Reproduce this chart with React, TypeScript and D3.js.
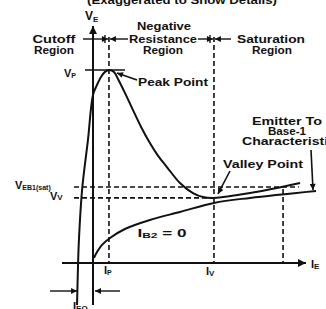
import React from "react";
import * as d3 from "d3";

// emitter characteristic (I_E, V_E), arbitrary units
const emitterIE = [-7.6, -7.1, -6.7, -5.2, -2.4, 0, 1.9, 3.8, 5.7, 7.6, 10, 11.9, 15.2, 19, 22.9, 27.1, 31, 35.2, 41.4, 47.6, 52.4, 57.6, 74.8, 98.6];
const emitterVE = [-20, 0, 11, 34.8, 58.6, 80, 84.8, 88.6, 91, 91.9, 91, 87.6, 81, 72.9, 64.8, 57.1, 51, 45.7, 38.1, 33.3, 31.4, 31, 33.3, 38.1];

// emitter to base-1 characteristic, I_B2 = 0
const baseIE = [0.5, 1.9, 4.3, 8.1, 15.2, 27.1, 41.4, 57.6, 74.8, 106.2];
const baseVE = [2.4, 5.2, 8.6, 11.9, 16.2, 20.5, 24.3, 28.6, 31, 34.3];

// marked levels
const IP = 7.6;
const IV = 57.6;
const ISAT = 90.5;
const IEO = -7.1;
const VP = 91.9;
const VEB1 = 36.2;
const VV = 31;

const regionLabels = [["Cutoff", "Region"], ["Negative", "Resistance", "Region"], ["Saturation", "Region"]];

const font = "'Liberation Sans', Arial, sans-serif";

const T = ({ x, y, w, size = 10, anchor = "middle", children }: any) => (
  <text x={x} y={y} fontSize={size} fontWeight="bold" textAnchor={anchor}
    textLength={w} lengthAdjust="spacingAndGlyphs" fill="#111">{children}</text>
);

export default function App() {
  const w = 326;
  const h = 309;
  const x = d3.scaleLinear().domain([0, 100]).range([93, 303]);
  const y = d3.scaleLinear().domain([0, 100]).range([263, 53]);

  const emitterPts: [number, number][] = emitterIE.map((v, i) => [x(v), y(emitterVE[i])]);
  const basePts: [number, number][] = baseIE.map((v, i) => [x(v), y(baseVE[i])]);
  const path = d3.line().curve(d3.curveCatmullRom.alpha(0.5));

  const dash = "5,3";
  const ink = "#111";
  const topY = 39;

  return (
    <svg width={w} height={h} style={{ position: "absolute", left: 0, top: 0, background: "#fff" }} fontFamily={font}>
      <defs>
        <marker id="ah" viewBox="0 0 10 10" refX="10" refY="5" markerWidth="7" markerHeight="6" orient="auto" markerUnits="userSpaceOnUse">
          <path d="M0,0 L10,5 L0,10 z" fill={ink} />
        </marker>
        <marker id="big" viewBox="0 0 10 10" refX="10" refY="5" markerWidth="10" markerHeight="8" orient="auto" markerUnits="userSpaceOnUse">
          <path d="M0,0 L10,5 L0,10 z" fill={ink} />
        </marker>
      </defs>

      {/* title, mostly cut off */}
      <T x={182} y={4} w={190}>(Exaggerated to Show Details)</T>

      {/* axes */}
      <line x1={x(0)} y1={305} x2={x(0)} y2={26} stroke={ink} strokeWidth={2} markerEnd="url(#big)" />
      <line x1={62} y1={y(0)} x2={306} y2={y(0)} stroke={ink} strokeWidth={2} markerEnd="url(#big)" />

      {/* dashed guides */}
      <g stroke={ink} strokeWidth={1.6} strokeDasharray={dash} fill="none">
        <line x1={x(IP)} y1={37} x2={x(IP)} y2={y(0)} />
        <line x1={x(IV)} y1={37} x2={x(IV)} y2={y(0)} />
        <line x1={x(ISAT)} y1={y(VEB1) + 2} x2={x(ISAT)} y2={y(0)} />
        <line x1={74} y1={y(VEB1)} x2={x(98)} y2={y(VEB1)} />
        <line x1={74} y1={y(VV)} x2={x(IV)} y2={y(VV)} />
      </g>

      {/* peak tick line */}
      <line x1={85} y1={y(VP)} x2={125} y2={y(VP)} stroke={ink} strokeWidth={1.4} />

      {/* region separators */}
      <g stroke={ink} strokeWidth={1.4}>
        <line x1={83} y1={topY} x2={x(IP) - 1} y2={topY} markerEnd="url(#ah)" />
        <line x1={128} y1={topY} x2={x(IP) + 1} y2={topY} markerEnd="url(#ah)" />
        <line x1={198} y1={topY} x2={x(IV) - 1} y2={topY} markerEnd="url(#ah)" />
        <line x1={231} y1={topY} x2={x(IV) + 1} y2={topY} markerEnd="url(#ah)" />
        <line x1={x(IP) - 4} y1={topY - 4} x2={x(IP) - 4} y2={topY + 4} />
        <line x1={x(IV) - 4} y1={topY - 4} x2={x(IV) - 4} y2={topY + 4} />
      </g>

      {/* curves */}
      <path d={path(emitterPts) || ""} fill="none" stroke={ink} strokeWidth={2} />
      <path d={path(basePts) || ""} fill="none" stroke={ink} strokeWidth={2} />

      {/* I_EO arrows */}
      <g stroke={ink} strokeWidth={1.4}>
        <line x1={50} y1={291} x2={x(IEO) - 1} y2={291} markerEnd="url(#ah)" />
        <line x1={120} y1={291} x2={x(0) + 2} y2={291} markerEnd="url(#ah)" />
      </g>

      {/* callout arrows */}
      <g stroke={ink} strokeWidth={1.6}>
        <line x1={137} y1={80} x2={x(IP) + 8} y2={y(VP) + 3} markerEnd="url(#ah)" />
        <line x1={230} y1={171} x2={x(IV) + 4} y2={y(VV) - 4} markerEnd="url(#ah)" />
        <line x1={311} y1={150} x2={313} y2={y(baseVE[9]) - 1} markerEnd="url(#ah)" />
      </g>

      {/* axis labels */}
      <text x={85} y={20} fontSize={12} fontWeight="bold" fill={ink}>V<tspan fontSize={8} dy={2}>E</tspan></text>
      <text x={311} y={268} fontSize={11} fontWeight="bold" fill={ink}>I<tspan fontSize={8} dy={1}>E</tspan></text>

      {/* region labels */}
      <T x={54} y={43} w={43}>{regionLabels[0][0]}</T>
      <T x={54} y={54} w={40}>{regionLabels[0][1]}</T>
      <T x={164} y={30} w={54}>{regionLabels[1][0]}</T>
      <T x={163} y={43} w={68}>{regionLabels[1][1]}</T>
      <T x={163} y={54} w={40}>{regionLabels[1][2]}</T>
      <T x={271} y={43} w={68}>{regionLabels[2][0]}</T>
      <T x={272} y={54} w={40}>{regionLabels[2][1]}</T>

      {/* point labels */}
      <T x={138} y={86} w={70} anchor="start">Peak Point</T>
      <T x={223} y={168} w={80} anchor="start">Valley Point</T>
      <T x={287} y={125} w={70}>Emitter To</T>
      <T x={287} y={135} w={38}>Base-1</T>
      <T x={289} y={145} w={94}>Characteristic</T>
      <T x={162} y={237} w={49}>
        I<tspan fontSize={7} dy={1}>B2</tspan><tspan dy={-1}> = 0</tspan>
      </T>

      {/* level labels */}
      <text x={64} y={77} fontSize={11} fontWeight="bold" fill={ink}>V<tspan fontSize={7} dy={1}>P</tspan></text>
      <text x={15} y={189} fontSize={11} fontWeight="bold" fill={ink}>V<tspan fontSize={7} dy={1}>EB1(sat)</tspan></text>
      <text x={50} y={200} fontSize={11} fontWeight="bold" fill={ink}>V<tspan fontSize={8} dy={0}>V</tspan></text>
      <text x={104} y={274} fontSize={11} fontWeight="bold" fill={ink}>I<tspan fontSize={7} dy={1}>P</tspan></text>
      <text x={206} y={275} fontSize={11} fontWeight="bold" fill={ink}>I<tspan fontSize={8} dy={1}>V</tspan></text>
      <text x={73} y={310} fontSize={11} fontWeight="bold" fill={ink}>I<tspan fontSize={8} dy={1}>EO</tspan></text>
    </svg>
  );
}
